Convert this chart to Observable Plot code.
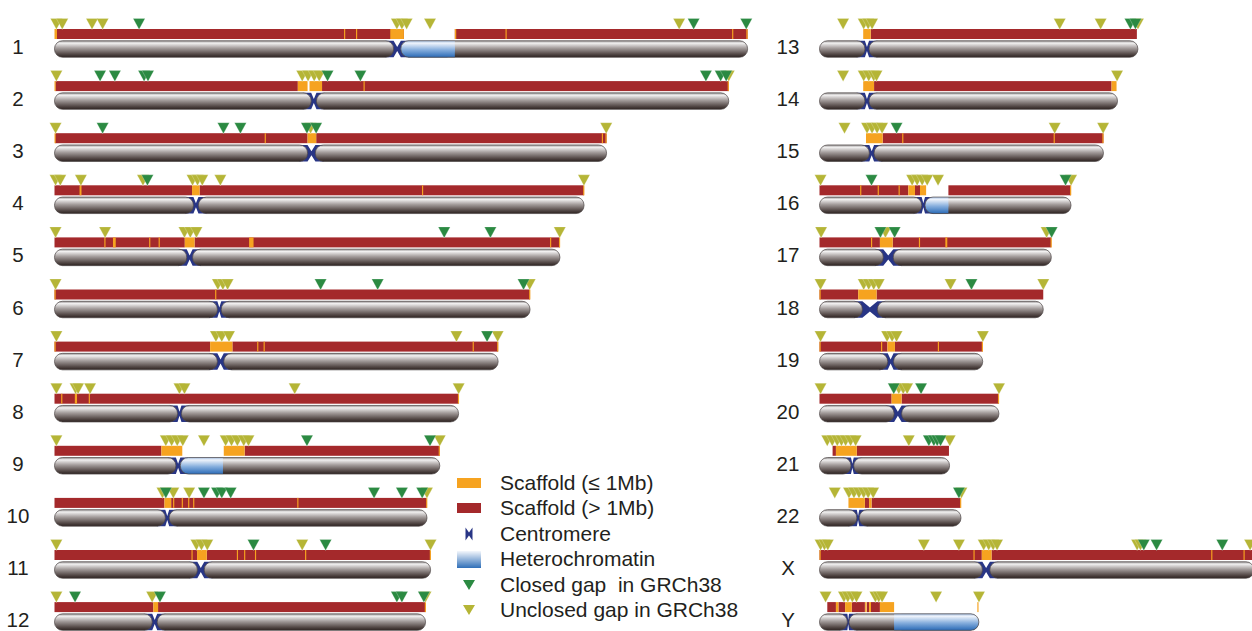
<!DOCTYPE html>
<html><head><meta charset="utf-8">
<script src="https://cdn.jsdelivr.net/npm/d3@7"></script>
<script src="https://cdn.jsdelivr.net/npm/@observablehq/plot@0.6"></script>
<style>
html,body{margin:0;padding:0;background:#fff;}
#wrap{position:relative;width:1252px;height:631px;overflow:hidden;font-family:"Liberation Sans",Arial,sans-serif;}
.lrow{position:absolute;display:flex;align-items:center;height:26px;font-size:21px;color:#231f20;white-space:pre;}
.lrow svg{flex:none;}
</style></head><body><div id="wrap"></div>
<script>
// ---------------- data (Mb, GRCh38) ----------------
const chromosomes = ["1","2","3","4","5","6","7","8","9","10","11","12","13","14","15","16","17","18","19","20","21","22","X","Y"];
const lengths = [248.96,242.19,198.30,190.21,181.54,170.81,159.35,145.14,138.39,133.80,135.09,133.28,114.36,107.04,101.99,90.34,83.26,80.37,58.62,64.44,46.71,50.82,156.04,57.23];
const cenStart = [121.8,92.2,90.9,49.9,47.5,58.5,58.5,44.2,43.6,39.8,51.3,35.1,16.3,16.3,17.9,36.7,22.9,15.4,24.5,26.8,11.3,13.4,58.5,10.0];
const cenEnd   = [124.4,94.1,93.7,51.7,49.6,59.9,60.8,45.6,45.2,41.2,53.8,36.9,17.8,17.8,19.6,37.9,26.5,20.8,26.6,29.5,12.3,14.3,61.2,10.6];
const heterochromatin = [["1",124.4,143.8],["9",45.2,60.5],["16",37.9,46.3],["Y",26.8,57.23]];
const largeScaffolds = [
 ["1",0.9,125.5],["1",143.8,248.96],["2",0.3,87.4],["2",96.1,242.19],["3",0.2,90.9],["3",94.0,198.3],
 ["4",0,49.4],["4",52.1,190.21],["5",0,46.8],["5",50.3,181.54],["6",0,170.81],["7",0,55.9],["7",63.9,159.35],
 ["8",0,145.14],["9",0,38.4],["9",68.3,138.39],["10",0,39.5],["10",41.9,133.8],["11",0,51.2],["11",54.7,135.09],
 ["12",0,35.5],["12",37.2,133.28],["13",18.4,114.0],["14",19.6,104.9],["15",22.7,101.99],
 ["16",0,31.9],["16",34.3,36.1],["16",46.3,90.34],["17",0,21.7],["17",26.3,83.26],["18",0,13.9],["18",20.5,80.37],
 ["19",0,24.4],["19",27.1,58.62],["20",0,25.9],["20",29.5,64.44],["21",4.7,5.9],["21",13.4,46.5],
 ["22",16.3,17.8],["22",18.7,50.7],["X",0,58.3],["X",61.8,156.04],
 ["Y",2.8,5.9],["Y",6.8,9.2],["Y",11.6,16.3],["Y",17.0,17.8],["Y",18.5,21.7]
];
const smallScaffolds = [
 ["1",0,0.9],["1",104.0,104.4],["1",108.3,108.7],["1",120.6,125.5],["1",143.8,144.3],["1",162.0,162.4],["1",243.4,243.8],["1",248.5,248.96],
 ["2",0,0.3],["2",87.4,90.9],["2",91.6,96.1],["2",111.0,111.4],["2",241.8,242.19],
 ["3",0,0.2],["3",75.5,75.9],["3",90.9,94.0],["3",196.6,197.0],["3",197.9,198.3],
 ["4",9.0,9.7],["4",49.4,52.1],["4",132.0,132.4],["4",189.9,190.21],
 ["5",17.9,18.3],["5",21.0,22.0],["5",34.0,34.4],["5",37.4,37.8],["5",46.8,50.3],["5",69.9,71.5],["5",178.0,178.4],["5",181.2,181.54],
 ["6",0,0.3],["6",57.7,58.1],["6",170.5,170.81],
 ["7",0,0.3],["7",55.9,63.9],["7",72.8,73.2],["7",75.1,75.5],["7",150.2,150.6],["7",159.0,159.35],
 ["8",2.4,2.8],["8",7.3,8.1],["8",12.3,12.7],["8",144.9,145.14],
 ["9",38.4,45.9],["9",60.8,68.3],["9",138.0,138.39],
 ["10",39.5,41.9],["10",42.6,43.0],["10",45.7,46.1],["10",48.0,48.4],["10",49.8,50.2],["10",87.2,87.6],["10",133.5,133.8],
 ["11",49.2,49.6],["11",51.2,54.7],["11",65.5,65.9],["11",68.1,68.5],["11",72.0,72.4],["11",90.0,90.4],["11",134.8,135.09],
 ["12",35.5,37.2],["12",133.0,133.28],
 ["13",15.7,18.4],["14",15.7,19.6],["14",104.9,106.7],
 ["15",16.7,22.7],["15",29.7,30.1],["15",84.1,84.5],["15",101.6,101.99],
 ["16",14.6,15.0],["16",20.9,21.3],["16",28.4,28.8],["16",31.9,34.3],["16",36.1,38.3],["16",90.0,90.34],
 ["17",18.5,18.9],["17",21.7,26.3],["17",35.7,36.1],["17",45.2,45.9],["17",83.0,83.26],
 ["18",0,0.3],["18",13.9,20.5],
 ["19",0,0.3],["19",22.1,22.5],["19",24.4,27.1],["19",42.5,42.9],["19",58.3,58.62],
 ["20",25.9,29.5],["20",64.1,64.44],["21",5.9,13.4],
 ["22",10.4,16.3],["22",17.8,18.7],["22",50.5,50.82],
 ["X",0,0.3],["X",55.3,55.7],["X",58.3,61.8],["X",140.7,141.1],["X",152.3,152.7],
 ["Y",5.9,6.8],["Y",9.2,11.6],["Y",16.4,16.9],["Y",17.8,18.5],["Y",21.7,26.8],["Y",56.7,57.1]
];
const closedGaps = [
 ["1",30.2],["1",229.4],["1",248.3],
 ["2",16.2],["2",21.5],["2",32.0],["2",33.4],["2",97.9],["2",109.7],["2",233.8],["2",239.1],["2",241.1],
 ["3",17.1],["3",60.5],["3",66.6],["3",90.5],["3",93.8],["4",33.2],["5",139.8],["5",156.4],
 ["6",95.4],["6",115.9],["6",168.3],["7",155.2],["9",90.5],["9",134.7],
 ["10",39.8],["10",53.5],["10",58.2],["10",59.9],["10",63.1],["10",114.6],["10",124.6],["10",131.9],
 ["11",71.3],["11",97.2],["12",7.2],["12",37.7],["12",122.8],["12",124.6],["12",132.5],
 ["13",111.5],["13",113.3],["15",27.5],["16",18.5],["16",88.2],["17",21.7],["17",26.8],["17",83.2],
 ["18",54.4],["20",26.5],["20",36.3],["21",39.1],["21",40.9],["21",42.1],["21",43.3],["22",49.9],
 ["X",116.3],["X",120.9],["X",144.5]
];
const unclosedGaps = [
 ["1",0.5],["1",2.6],["1",13.3],["1",17.1],["1",122.8],["1",124.6],["1",126.3],["1",134.7],["1",224.2],
 ["2",0.5],["2",88.8],["2",90.9],["2",93.1],["2",94.9],["2",242.0],
 ["3",0.2],["3",91.8],["3",198.0],
 ["4",0.2],["4",1.9],["4",9.3],["4",31.6],["4",49.4],["4",51.2],["4",52.9],["4",59.4],["4",190.0],
 ["5",0.2],["5",18.0],["5",46.5],["5",48.6],["5",50.8],["5",181.3],
 ["6",0.2],["6",58.5],["6",60.3],["6",62.0],["6",170.5],
 ["7",0.5],["7",57.8],["7",59.9],["7",62.5],["7",144.2],["7",159.0],
 ["8",0.5],["8",7.4],["8",8.3],["8",12.6],["8",44.7],["8",46.5],["8",86.1],["8",145.0],
 ["9",0.5],["9",39.8],["9",41.9],["9",43.9],["9",45.9],["9",53.5],["9",61.3],["9",63.4],["9",65.5],["9",67.8],["9",69.5],["9",138.2],
 ["10",38.6],["10",42.5],["10",48.2],["10",133.6],
 ["11",0.5],["11",50.8],["11",52.6],["11",54.7],["11",88.8],["11",134.9],
 ["12",0.5],["12",34.9],["12",133.1],
 ["13",8.3],["13",15.7],["13",17.3],["13",18.7],["13",86.1],["13",100.8],["13",114.2],
 ["14",8.3],["14",15.7],["14",17.5],["14",19.3],["14",20.3],["14",106.7],
 ["15",8.8],["15",16.9],["15",18.7],["15",20.5],["15",22.3],["15",84.3],["15",101.7],
 ["16",0.2],["16",33.1],["16",34.9],["16",36.7],["16",38.5],["16",42.4],["16",90.2],
 ["17",0.4],["17",23.5],["17",81.4],
 ["18",0.2],["18",15.7],["18",17.5],["18",19.3],["18",21.1],["18",46.9],["18",80.2],
 ["19",0.2],["19",24.1],["19",25.9],["19",27.5],["19",58.5],
 ["20",0.2],["20",28.3],["20",29.9],["20",31.3],["20",64.3],
 ["21",2.6],["21",4.4],["21",6.2],["21",7.7],["21",9.2],["21",11.0],["21",12.8],["21",31.9],["21",46.6],
 ["22",5.3],["22",10.4],["22",12.2],["22",14.0],["22",15.7],["22",17.3],["22",19.1],["22",50.8],
 ["X",0.2],["X",1.6],["X",2.8],["X",37.3],["X",49.9],["X",58.8],["X",60.6],["X",62.2],["X",63.6],["X",113.9],["X",115.1],["X",154.5],
 ["Y",2.0],["Y",8.6],["Y",10.0],["Y",11.6],["Y",13.1],["Y",19.9],["Y",21.1],["Y",22.3],["Y",41.7],["Y",57.1]
];
const legendLabels = ["Scaffold (\u2264 1Mb)","Scaffold (> 1Mb)","Centromere","Heterochromatin","Closed gap  in GRCh38","Unclosed gap in GRCh38"];

// ---------------- layout ----------------
const W = 1252, H = 631;
const PX_PER_MB = 2.784, LEFT_X = 54.5, RIGHT_X = 819.5;
const ROW0 = 49, ROW_STEP = 52.1, PER_COL = 12;
const COLORS = {red:"#a4292b", orange:"#f6a320", navy:"#283585", green:"#2b8a42", olive:"#b5b536"};
const idx = new Map(chromosomes.map((c, i) => [c, i]));
const colShift = (RIGHT_X - LEFT_X) / PX_PER_MB;
const X = (c, mb) => (idx.get(c) < PER_COL ? 0 : colShift) + mb;
const R = c => idx.get(c) % PER_COL;
const py = px => px / ROW_STEP;
const BODY_H = 8.25;

const arms = chromosomes.flatMap((c, i) => [{c, s: 0, e: cenStart[i]}, {c, s: cenEnd[i], e: lengths[i]}]);
const bow = chromosomes.flatMap((c, i) => {
  const s = cenStart[i], e = cenEnd[i], m = (s + e) / 2, ext = 3, h = py(BODY_H), w = py(2), r = R(c);
  return [[s - ext, h], [s, h], [m, w], [e, h], [e + ext, h]].map(([x, hh]) => ({c, x: X(c, x), y1: r - hh, y2: r + hh}));
});
const roundMb = 8 / PX_PER_MB;
const hetRound = heterochromatin.map(([c, s, e]) => {
  const i = idx.get(c);
  const touchS = Math.abs(s - cenEnd[i]) < 1.0, touchE = Math.abs(e - lengths[i]) < 0.5;
  return {c, s: touchS ? cenEnd[i] : s, e: touchE ? lengths[i] : e, touchS, touchE};
});
const hetSquare = hetRound.map(d => ({c: d.c, s: d.touchS ? d.s + roundMb : d.s, e: d.touchE ? d.e - roundMb : d.e}));

const downTri = {draw(ctx) { ctx.moveTo(-6, -5.5); ctx.lineTo(6, -5.5); ctx.lineTo(0, 5.5); ctx.closePath(); }};
const leftChr = chromosomes.slice(0, PER_COL), rightChr = chromosomes.slice(PER_COL);
const barY1 = c => R(c) - py(20), barY2 = c => R(c) - py(10);
const bodyY1 = d => R(d.c) - py(BODY_H), bodyY2 = d => R(d.c) + py(BODY_H);

const svg = Plot.plot({
  width: W, height: H, margin: 0,
  style: {fontFamily: "Liberation Sans, Arial, sans-serif", background: "white", overflow: "hidden"},
  x: {domain: [0, (W - LEFT_X) / PX_PER_MB], range: [LEFT_X, W], axis: null},
  y: {domain: [0, PER_COL - 1], range: [ROW0, ROW0 + (PER_COL - 1) * ROW_STEP], axis: null},
  marks: [
    Plot.areaY(bow, {x: "x", y1: "y1", y2: "y2", z: "c", fill: COLORS.navy}),
    Plot.rect(arms, {x1: d => X(d.c, d.s), x2: d => X(d.c, d.e), y1: bodyY1, y2: bodyY2, rx: 8, fill: "url(#gBody)"}),
    Plot.rect(hetRound, {x1: d => X(d.c, d.s), x2: d => X(d.c, d.e), y1: bodyY1, y2: bodyY2, rx: 8, fill: "url(#gHet)"}),
    Plot.rect(hetSquare, {x1: d => X(d.c, d.s), x2: d => X(d.c, d.e), y1: bodyY1, y2: bodyY2, fill: "url(#gHet)"}),
    Plot.rect(arms, {x1: d => X(d.c, d.s), x2: d => X(d.c, d.e), y1: bodyY1, y2: bodyY2, rx: 8, fill: "none", stroke: "#4d4646", strokeWidth: 0.7}),
    Plot.rect(largeScaffolds, {x1: d => X(d[0], d[1]), x2: d => X(d[0], d[2]), y1: d => barY1(d[0]), y2: d => barY2(d[0]), fill: COLORS.red}),
    Plot.rect(smallScaffolds, {x1: d => X(d[0], d[1]), x2: d => X(d[0], Math.max(d[2], d[1] + 0.42)), y1: d => barY1(d[0]), y2: d => barY2(d[0]), fill: COLORS.orange}),
    Plot.dot(unclosedGaps, {x: d => X(d[0], d[1]), y: d => R(d[0]) - py(25.5), symbol: downTri, fill: COLORS.olive, stroke: "white", strokeWidth: 0.4, strokeOpacity: 0.6}),
    Plot.dot(closedGaps, {x: d => X(d[0], d[1]), y: d => R(d[0]) - py(25.5), symbol: downTri, fill: COLORS.green, stroke: "white", strokeWidth: 0.4, strokeOpacity: 0.6}),
    Plot.text(leftChr, {x: d => X(d, 0), y: d => R(d), text: d => d, dx: -37, dy: -2, fontSize: 20.5, fill: "#231f20"}),
    Plot.text(rightChr, {x: d => X(d, 0), y: d => R(d), text: d => d, dx: -32, dy: -2, fontSize: 20.5, fill: "#231f20"})
  ]
});

const defs = d3.select(svg).insert("defs", ":first-child");
const gb = defs.append("linearGradient").attr("id", "gBody").attr("x1", 0).attr("y1", 0).attr("x2", 0).attr("y2", 1);
[[0, "#8e8a8a"], [0.14, "#f2f1f1"], [0.45, "#a39c9b"], [0.8, "#564b49"], [1, "#2c2220"]].forEach(([o, c]) => gb.append("stop").attr("offset", o).attr("stop-color", c));
const gh = defs.append("linearGradient").attr("id", "gHet").attr("x1", 0).attr("y1", 0).attr("x2", 0).attr("y2", 1);
[[0, "#a9c3e6"], [0.15, "#eef3fb"], [0.55, "#86aedd"], [1, "#2a6ab6"]].forEach(([o, c]) => gh.append("stop").attr("offset", o).attr("stop-color", c));

const wrap = document.getElementById("wrap");
wrap.appendChild(svg);

// ---------------- legend ----------------
const LEG_X = 457, LEG_Y0 = 483, LEG_STEP = 25.4;
const swatch = [
  s => s.append("rect").attr("x", 0).attr("y", 8).attr("width", 24).attr("height", 10).attr("fill", COLORS.orange),
  s => s.append("rect").attr("x", 0).attr("y", 8).attr("width", 24).attr("height", 10).attr("fill", COLORS.red),
  s => s.append("path").attr("d", "M8.5,6.5 L12,11.5 L15.5,6.5 L15.5,19.5 L12,14.5 L8.5,19.5 Z").attr("fill", COLORS.navy),
  s => s.append("rect").attr("x", 0).attr("y", 5).attr("width", 24).attr("height", 17).attr("fill", "url(#gLeg)"),
  s => s.append("path").attr("d", "M6,8 L18,8 L12,18 Z").attr("fill", COLORS.green),
  s => s.append("path").attr("d", "M6,8 L18,8 L12,18 Z").attr("fill", COLORS.olive)
];
legendLabels.forEach((lab, i) => {
  const row = d3.select(wrap).append("div").attr("class", "lrow")
    .style("left", LEG_X + "px").style("top", (LEG_Y0 + i * LEG_STEP - 13) + "px");
  const s = row.append("svg").attr("width", 24).attr("height", 26);
  if (i === 3) {
    const g = s.append("defs").append("linearGradient").attr("id", "gLeg").attr("x1", 0).attr("y1", 0).attr("x2", 0).attr("y2", 1);
    [[0, "#f4f7fc"], [1, "#2f6fb8"]].forEach(([o, c]) => g.append("stop").attr("offset", o).attr("stop-color", c));
  }
  swatch[i](s);
  row.append("span").style("margin-left", "19px").text(lab);
});
</script></body></html>
